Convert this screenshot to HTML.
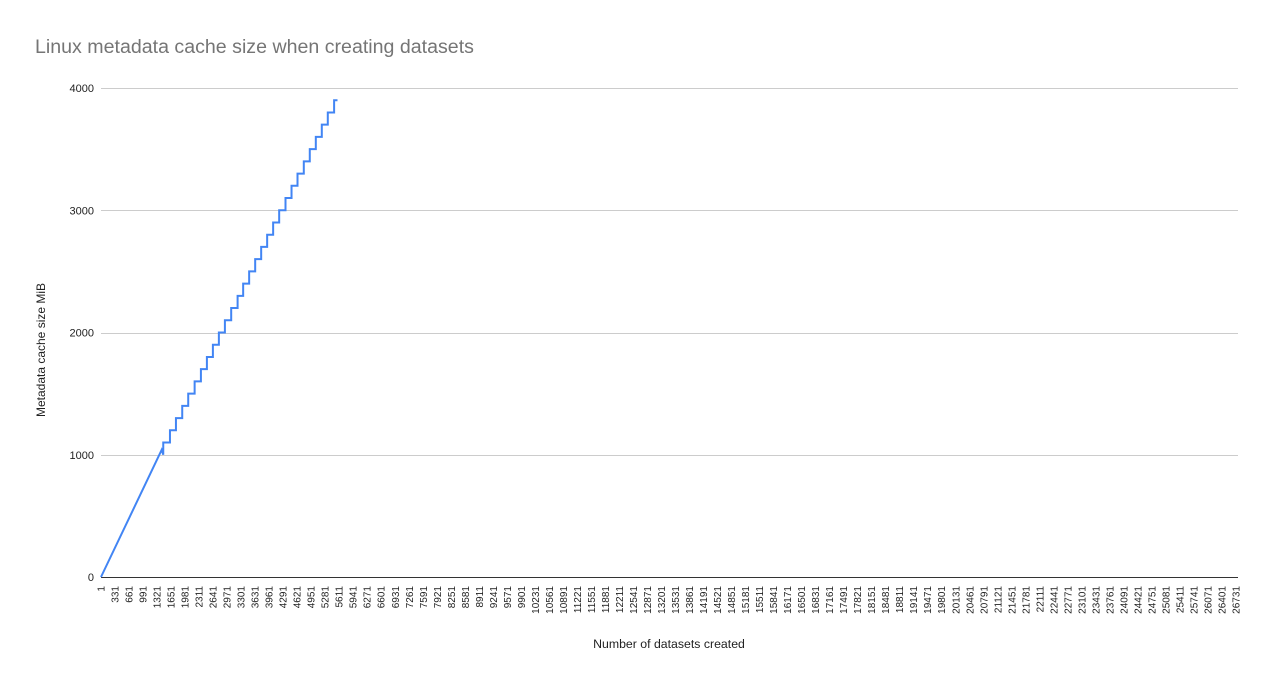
<!DOCTYPE html>
<html><head><meta charset="utf-8"><style>
body{margin:0;background:#fff;}
svg{display:block;font-family:"Liberation Sans",Arial,sans-serif;}
</style></head><body>
<svg id="chart" width="1272" height="685" viewBox="0 0 1272 685">
<rect width="1272" height="685" fill="#fff"/>
<text x="35" y="53" font-size="19.6" fill="#757575">Linux metadata cache size when creating datasets</text>
<g id="grid"></g><g id="yticks"></g><g id="xticks"></g>
<line x1="101" y1="577.5" x2="1238" y2="577.5" stroke="#333" stroke-width="1"/>
<path id="series" fill="none" stroke="#4285f4" stroke-width="2"/>
<text transform="translate(45,350) rotate(-90)" text-anchor="middle" font-size="12" fill="#222">Metadata cache size MiB</text>
<text x="669" y="648" text-anchor="middle" font-size="12.3" fill="#222">Number of datasets created</text>
</svg>
<script>
const yTicks=[0,1000,2000,3000,4000];
const xTickStart=1, xTickStep=330, xTickCount=82;
const seriesX=[1,1430,1467,1467,1625,1625,1766,1766,1914,1914,2055,2055,2206,2206,2354,2354,2495,2495,2636,2636,2777,2777,2919,2919,3067,3067,3218,3218,3349,3349,3490,3490,3632,3632,3773,3773,3914,3914,4055,4055,4197,4197,4346,4346,4488,4488,4629,4629,4777,4777,4918,4918,5060,5060,5201,5201,5342,5342,5491,5491,5571];
const seriesY=[0,1040,1000,1100,1100,1200,1200,1300,1300,1400,1400,1500,1500,1600,1600,1700,1700,1800,1800,1900,1900,2000,2000,2100,2100,2200,2200,2300,2300,2400,2400,2500,2500,2600,2600,2700,2700,2800,2800,2900,2900,3000,3000,3100,3100,3200,3200,3300,3300,3400,3400,3500,3500,3600,3600,3700,3700,3800,3800,3900,3900];
const X0=101,X1=1236,Y0=577,Y1=88;
const xMin=1,xMax=26731,yMax=4000;
const sx=v=>X0+(v-xMin)/(xMax-xMin)*(X1-X0);
const sy=v=>Y0-v/yMax*(Y0-Y1);
const NS="http://www.w3.org/2000/svg";
const grid=document.getElementById('grid'),yt=document.getElementById('yticks'),xt=document.getElementById('xticks');
yTicks.forEach(v=>{
  const l=document.createElementNS(NS,'line');
  
  
  l.setAttribute('x1',X0);l.setAttribute('x2',1238);
  l.setAttribute('y1',Math.round(sy(v))+0.5);l.setAttribute('y2',Math.round(sy(v))+0.5);
  l.setAttribute('stroke','#ccc');grid.appendChild(l);
  const t=document.createElementNS(NS,'text');
  
  
  t.setAttribute('x',94);t.setAttribute('y',sy(v)+4);
  t.setAttribute('text-anchor','end');t.setAttribute('font-size','11');t.setAttribute('fill','#222');
  t.textContent=v;yt.appendChild(t);
});
for(let i=0;i<xTickCount;i++){
  const v=xTickStart+i*xTickStep;
  const t=document.createElementNS(NS,'text');
  
  
  const x=sx(v)+3.5;
  t.setAttribute('transform','translate('+x+',586) rotate(-90)');
  t.setAttribute('text-anchor','end');t.setAttribute('font-size','10');t.setAttribute('fill','#222');
  t.textContent=v;xt.appendChild(t);
}
document.getElementById('series').setAttribute('d',seriesX.map((x,i)=>(i?'L':'M')+sx(x).toFixed(2)+','+sy(seriesY[i]).toFixed(2)).join(' '));
</script>
</body></html>
